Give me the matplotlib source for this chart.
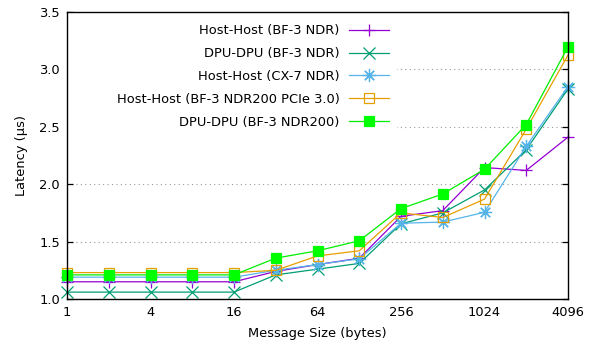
import matplotlib
matplotlib.use("Agg")
import matplotlib.pyplot as plt
from matplotlib.patches import Rectangle

sizes = [1, 2, 4, 8, 16, 32, 64, 128, 256, 512, 1024, 2048, 4096]
host_bf3 = [1.15, 1.15, 1.15, 1.15, 1.15, 1.24, 1.30, 1.355, 1.72, 1.77, 2.145, 2.12, 2.41]
dpu_bf3 = [1.06, 1.06, 1.06, 1.06, 1.06, 1.21, 1.26, 1.31, 1.655, 1.75, 1.95, 2.30, 2.83]
host_cx7 = [1.19, 1.19, 1.19, 1.19, 1.19, 1.25, 1.30, 1.35, 1.66, 1.67, 1.755, 2.33, 2.85]
host_ndr200 = [1.23, 1.23, 1.23, 1.23, 1.23, 1.25, 1.375, 1.42, 1.75, 1.71, 1.87, 2.48, 3.125]
dpu_ndr200 = [1.21, 1.21, 1.21, 1.21, 1.21, 1.356, 1.42, 1.507, 1.787, 1.915, 2.13, 2.52, 3.197]

labels = ["Host-Host (BF-3 NDR)", "DPU-DPU (BF-3 NDR)", "Host-Host (CX-7 NDR)",
          "Host-Host (BF-3 NDR200 PCIe 3.0)", "DPU-DPU (BF-3 NDR200)"]
xticks = [1, 4, 16, 64, 256, 1024, 4096]
yticks = [1.0, 1.5, 2.0, 2.5, 3.0, 3.5]

FS = 9.4
plt.rcParams['font.family'] = ['DejaVu Sans']
fig = plt.figure(figsize=(6.07, 3.48), dpi=100)
ax = fig.add_axes([67/607, 1-299/348, (568-67)/607, (299-12)/348])

series = [host_bf3, dpu_bf3, host_cx7, host_ndr200, dpu_ndr200]
colors = ["#9400D3", "#009E73", "#56B4E9", "#E69F00", "#00EE00"]
markers = ["+", "x", (8, 2, 0), "s", "s"]
mfc = [None, None, None, "none", "#00FF00"]
msizes = [9, 8, 9.5, 7.5, 7.5]

for ys, c, m, f, lab, ms in zip(series, colors, markers, mfc, labels, msizes):
    kw = dict(color=c, lw=0.9, marker=m, ms=ms, mew=0.9, label=lab, clip_on=False)
    if f is not None:
        kw['mfc'] = f
        kw['mec'] = c if f == "none" else "#00FF00"
    ax.plot(sizes, ys, **kw)

ax.set_xscale('log', base=2)
ax.set_xlim(1, 4096)
ax.set_ylim(1.0, 3.5)
ax.set_xticks(xticks)
ax.set_xticklabels([str(v) for v in xticks])
ax.minorticks_off()
ax.set_yticks(yticks)
ax.set_yticklabels([f"{v:.1f}" for v in yticks])
ax.tick_params(axis='x', length=0, labelsize=FS, pad=5)
ax.tick_params(axis='y', direction='in', length=4, labelsize=FS, right=True, width=0.9, pad=5)
for s in ax.spines.values():
    s.set_linewidth(1.0)
ax.yaxis.grid(True, linestyle=(0, (1, 3)), color='#999999', lw=0.8)
ax.set_axisbelow(True)
ax.set_xlabel("Message Size (bytes)", fontsize=FS, labelpad=6)
ax.set_ylabel("Latency (µs)", fontsize=FS, labelpad=8)

# white key box hiding the grid behind the legend
ax.add_patch(Rectangle((0, (299-136)/287), (397-67)/501, 1 - (299-136)/287,
                       transform=ax.transAxes, facecolor='white', edgecolor='none', zorder=1))

leg = ax.legend(loc='upper right', bbox_to_anchor=(399/607, 1-14/348),
                bbox_transform=fig.transFigure, frameon=False,
                fontsize=FS, markerfirst=False, handlelength=3.0, labelspacing=0.75,
                borderpad=0.3, handletextpad=0.75)
fig.canvas.draw()
vp = leg._legend_box.get_children()[1]
for col in vp.get_children():
    col.align = 'right'

fig.savefig("out.png", dpi=100)
